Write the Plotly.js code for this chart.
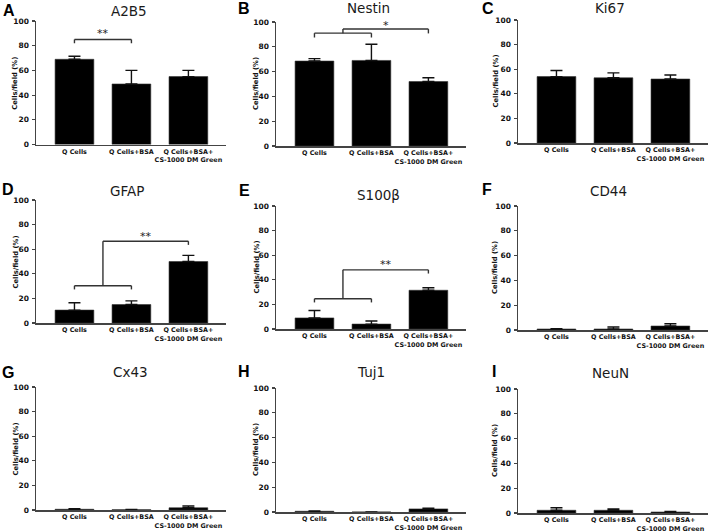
<!DOCTYPE html>
<html>
<head>
<meta charset="utf-8">
<script src="https://cdn.plot.ly/plotly-3.0.1.min.js"></script>
<style>html,body{margin:0;padding:0;background:#fff}#chart{width:709px;height:532px}</style>
</head>
<body>
<div id="chart"></div>
<script>
// ---- data ----
const categories = ["Q Cells", "Q Cells+BSA", "Q Cells+BSA+<br>CS-1000 DM Green"];
const panelLetters = ["A", "B", "C", "D", "E", "F", "G", "H", "I"];
const markers = ["A2B5", "Nestin", "Ki67", "GFAP", "S100\u03b2", "CD44", "Cx43", "Tuj1", "NeuN"];
const yTitle = "Cells/field (%)";
const yTicks = [0, 20, 40, 60, 80, 100];

const A2B5 = [69, 49, 55];      const A2B5Err = [2.5, 11, 5];
const Nestin = [68.5, 69, 52];  const NestinErr = [2, 13, 3];
const Ki67 = [54, 53, 52];      const Ki67Err = [5, 4, 3.3];
const GFAP = [10.5, 15, 50];    const GFAPErr = [6, 3, 5];
const S100b = [9, 4, 31.5];     const S100bErr = [6, 2.5, 2];
const CD44 = [0.8, 0.8, 3.2];   const CD44Err = [0.3, 1.6, 1.8];
const Cx43 = [0.6, 0.3, 1.8];   const Cx43Err = [0.4, 0.2, 1.5];
const Tuj1 = [0.6, 0, 2.5];     const Tuj1Err = [0.3, 0, 0.5];
const NeuN = [2.2, 2.2, 0.8];   const NeuNErr = [2, 1, 0.4];

const values = [A2B5, Nestin, Ki67, GFAP, S100b, CD44, Cx43, Tuj1, NeuN];
const errors = [A2B5Err, NestinErr, Ki67Err, GFAPErr, S100bErr, CD44Err, Cx43Err, Tuj1Err, NeuNErr];

// significance brackets (category index, value), per panel
const sigSimple = [ {panel: 0, from: 0, to: 1, y: 85, drop: 3, label: "**", ly: 90} ];
const sigGrouped = [
  {panel: 1, g0: 0, g1: 1, gy: 91, vy: 94.3, target: 2, drop: 3.5, label: "*", ly: 97.5},
  {panel: 3, g0: 0, g1: 1, gy: 30.3, vy: 66.5, target: 2, drop: 3, label: "**", ly: 70.5},
  {panel: 4, g0: 0, g1: 1, gy: 24.6, vy: 48.1, target: 2, drop: 3, label: "**", ly: 52.5}
];

// ---- layout geometry (pixels) ----
const W = 709, H = 532;
const colX = [[36, 226], [276, 466], [518, 708]];
const rowY = [ [[21,144.5],[22,146],[20,143]], [[200,323],[206,329],[206,330]], [[387,510],[388,512],[389,513]] ];
const titlePos = [[129,11],[368,8],[610,8],[127,191],[379,195],[608,191],[130,372],[371,372],[610,373]];
const letterPos = [[9,10],[244,8],[488,9],[8,189],[244,190],[487,189],[8,372],[244,371],[494,371]];
const yTitleX = [15, 256, 495];

const tickFont = {family: "DejaVu Sans", size: 7.5, color: "#111", weight: "bold"};
const catFont = {family: "DejaVu Sans", size: 6.4, color: "#111", weight: "bold"};

const data = [];
const layout = {
  width: W, height: H, margin: {l: 0, r: 0, t: 0, b: 0},
  paper_bgcolor: "#fff", plot_bgcolor: "#fff",
  font: {color: "#111"},
  showlegend: false, bargap: 0, annotations: [], shapes: []
};

for (let i = 0; i < 9; i++) {
  const r = Math.floor(i / 3), c = i % 3;
  const sfx = i === 0 ? "" : String(i + 1);
  const xa = "x" + sfx, ya = "y" + sfx;
  data.push({
    type: "bar", x: categories, y: values[i], xaxis: xa, yaxis: ya,
    width: 0.68,
    marker: {color: "#000", line: {color: "#333", width: 0.6}},
    error_y: {type: "data", symmetric: false, array: errors[i], arrayminus: [0, 0, 0],
              color: "#111", thickness: 1.4, width: 6},
    hoverinfo: "skip"
  });
  const [x0, x1] = colX[c];
  const [yt, yb] = rowY[r][c];
  layout["xaxis" + sfx] = {
    domain: [x0 / W, x1 / W], anchor: ya, type: "category",
    range: [-0.675, 2.66], showline: true, linecolor: "#444", linewidth: 1.5,
    ticks: "", tickangle: 0, showgrid: false, zeroline: false, tickfont: catFont,
    ticklabelstandoff: 0, fixedrange: true
  };
  layout["yaxis" + sfx] = {
    domain: [1 - yb / H, 1 - yt / H], anchor: xa, range: [0, 100],
    tickvals: yTicks, ticks: "outside", ticklen: 3, tickwidth: 1.2, tickcolor: "#444",
    showline: true, linecolor: "#444", linewidth: 1.5, showgrid: false, zeroline: false,
    tickfont: tickFont, ticklabelstandoff: 1, fixedrange: true
  };
  layout.annotations.push({
    xref: "paper", yref: "paper", x: titlePos[i][0] / W, y: 1 - titlePos[i][1] / H,
    text: markers[i], showarrow: false, xanchor: "center", yanchor: "middle",
    font: {family: "DejaVu Sans", size: 13.5, color: "#1a1a1a"}
  });
  layout.annotations.push({
    xref: "paper", yref: "paper", x: letterPos[i][0] / W, y: 1 - letterPos[i][1] / H,
    text: "<b>" + panelLetters[i] + "</b>", showarrow: false, xanchor: "center", yanchor: "middle",
    font: {family: "Liberation Sans", size: 16, color: "#000"}
  });
  layout.annotations.push({
    xref: "paper", yref: "paper", x: yTitleX[c] / W, y: 1 - ((yt + yb) / 2) / H,
    text: yTitle, textangle: -90, showarrow: false, xanchor: "center", yanchor: "middle",
    font: {family: "DejaVu Sans", size: 6.8, color: "#111", weight: "bold"}
  });
}

const lineStyle = {color: "#333", width: 1.4};
function seg(i, xa0, ya0, xa1, ya1) {
  const sfx = i === 0 ? "" : String(i + 1);
  layout.shapes.push({type: "line", xref: "x" + sfx, yref: "y" + sfx,
    x0: xa0, y0: ya0, x1: xa1, y1: ya1, line: lineStyle});
}
function label(i, x, y, t) {
  const sfx = i === 0 ? "" : String(i + 1);
  layout.annotations.push({xref: "x" + sfx, yref: "y" + sfx, x: x, y: y, text: t,
    showarrow: false, xanchor: "center", yanchor: "middle",
    font: {family: "DejaVu Sans", size: 11, color: "#222"}});
}
sigSimple.forEach(s => {
  seg(s.panel, s.from, s.y - s.drop, s.from, s.y);
  seg(s.panel, s.from, s.y, s.to, s.y);
  seg(s.panel, s.to, s.y, s.to, s.y - s.drop);
  label(s.panel, (s.from + s.to) / 2, s.ly, s.label);
});
sigGrouped.forEach(s => {
  const mid = (s.g0 + s.g1) / 2;
  seg(s.panel, s.g0, s.gy - s.drop, s.g0, s.gy);
  seg(s.panel, s.g0, s.gy, s.g1, s.gy);
  seg(s.panel, s.g1, s.gy, s.g1, s.gy - s.drop);
  seg(s.panel, mid, s.gy, mid, s.vy);
  seg(s.panel, mid, s.vy, s.target, s.vy);
  seg(s.panel, s.target, s.vy, s.target, s.vy - s.drop);
  label(s.panel, (mid + s.target) / 2, s.ly, s.label);
});

Plotly.newPlot("chart", data, layout, {staticPlot: true, displayModeBar: false});
</script>
</body>
</html>
